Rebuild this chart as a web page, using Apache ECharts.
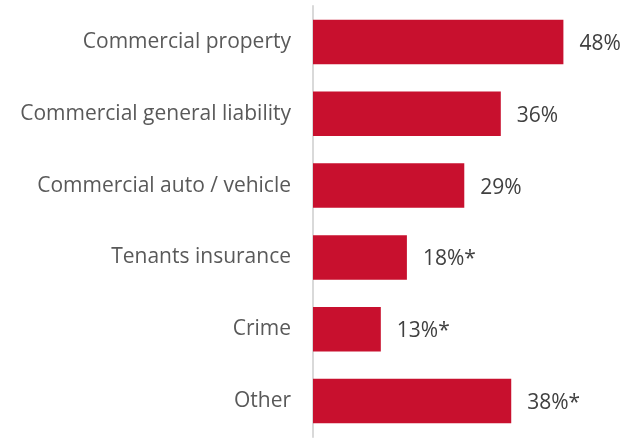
<!DOCTYPE html>
<html>
<head>
<meta charset="utf-8">
<script src="https://cdn.jsdelivr.net/npm/echarts@6/dist/echarts.min.js"></script>
<style>
  html, body { margin: 0; padding: 0; background: #ffffff; }
  #chart { width: 631px; height: 438px; }
</style>
</head>
<body>
<div id="chart"></div>
<script>
// Insurance lines held, share of respondents (%)
const categories = [
  'Commercial property',
  'Commercial general liability',
  'Commercial auto / vehicle',
  'Tenants insurance',
  'Crime',
  'Other'
];
const values = [48, 36, 29, 18, 13, 38];
// "*" marks figures flagged as low base
const flags = ['', '', '', '*', '*', '*'];

const chart = echarts.init(document.getElementById('chart'), null, { renderer: 'canvas' });

chart.setOption({
  animation: false,
  grid: { left: 313, right: 5, top: 6, bottom: 1, containLabel: false },
  xAxis: {
    type: 'value',
    min: 0,
    max: 60,
    show: false
  },
  yAxis: {
    type: 'category',
    data: categories,
    inverse: true,
    axisLine: { show: true, lineStyle: { color: '#d9d9d9', width: 2 } },
    axisTick: { show: false },
    axisLabel: {
      margin: 22,
      color: '#595959',
      fontFamily: 'Open Sans',
      fontSize: 21,
      padding: [5, 0, 0, 0]
    }
  },
  series: [{
    type: 'bar',
    data: values,
    barCategoryGap: '38%',
    itemStyle: { color: '#c8102e' },
    label: {
      show: true,
      position: 'right',
      distance: 16,
      offset: [0, 2],
      color: '#404040',
      fontFamily: 'Open Sans',
      fontSize: 21,
      formatter: p => p.value + '%' + flags[p.dataIndex]
    }
  }]
});
</script>
</body>
</html>
